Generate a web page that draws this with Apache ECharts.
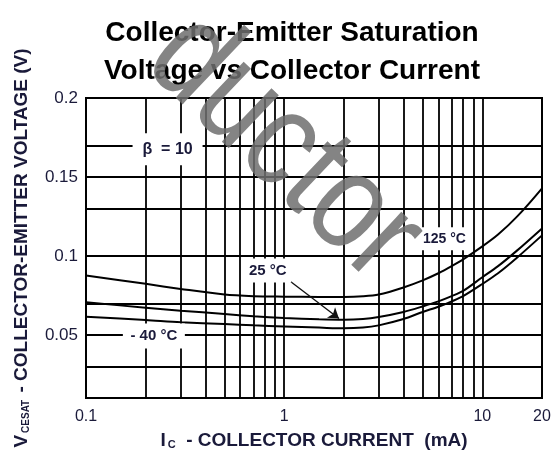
<!DOCTYPE html>
<html>
<head>
<meta charset="utf-8">
<script src="https://cdn.jsdelivr.net/npm/echarts@6.0.0/dist/echarts.min.js"></script>
<style>
html,body{margin:0;padding:0;background:#fff;}
#chart{width:559px;height:450px;}
</style>
</head>
<body>
<div id="chart"></div>
<script>
// ---- data ----
const currents = [0.1, 0.2, 0.3, 0.5, 0.7, 1, 1.5, 2, 2.5, 3, 4, 5, 6, 7, 8, 10, 12, 15, 20];           // mA
const vce125 = [0.0876, 0.0823, 0.0791, 0.0755, 0.0745, 0.0742, 0.0740, 0.0740, 0.0744, 0.0755, 0.0800, 0.0845, 0.0890, 0.0935, 0.0978, 0.1060, 0.1135, 0.1250, 0.1428];
const vce25  = [0.0706, 0.0672, 0.0653, 0.0632, 0.0618, 0.0607, 0.0598, 0.0595, 0.0600, 0.0613, 0.0645, 0.0680, 0.0712, 0.0745, 0.0778, 0.0865, 0.0935, 0.1035, 0.1174];
const vceM40 = [0.0615, 0.0594, 0.0580, 0.0568, 0.0560, 0.0553, 0.0546, 0.0541, 0.0546, 0.0560, 0.0600, 0.0645, 0.0678, 0.0712, 0.0745, 0.0822, 0.0890, 0.0990, 0.1130];

const xTickValues = [0.1, 1, 10, 20];
const xTickLabels = ['0.1', '1', '10', '20'];
const yTickValues = [0.05, 0.1, 0.15, 0.2];
const yTickLabels = ['0.05', '0.1', '0.15', '0.2'];

const xGridValues = [0.2, 0.3, 0.4, 0.5, 0.6, 0.7, 0.8, 0.9, 1, 2, 3, 4, 5, 6, 7, 8, 9, 10];
const yGridValues = [0.025, 0.05, 0.075, 0.1, 0.125, 0.15, 0.175];

const xMin = 0.1, xMax = 20, yMin = 0.01, yMax = 0.2;

// annotation texts with their anchor (data coordinates)
const noteTexts  = ['β  = 10', '125 °C', '25 °C', '- 40 °C'];
const noteX      = [0.258, 6.44, 0.826, 0.22];
const noteY      = [0.1676, 0.1108, 0.0908, 0.0492];
const noteBox    = [[70, 32], [52, 23], [47, 24], [62, 25]];

const arrowFrom = [1.06, 0.0844];
const arrowTo   = [1.89, 0.0603];

const FONT = 'Liberation Sans, Arial, sans-serif';

function nearestLabel(v, vals, labels) {
  let best = 0, bd = Infinity;
  for (let i = 0; i < vals.length; i++) {
    const d = Math.abs(Math.log(vals[i]) - Math.log(v));
    if (d < bd) { bd = d; best = i; }
  }
  return labels[best];
}

const pairs = (ys) => currents.map((c, i) => [c, ys[i]]);

const curveStyle = { color: '#000', width: 2 };
const curveCommon = { type: 'line', smooth: 0.3, showSymbol: false, lineStyle: curveStyle, z: 3, silent: true };

const chart = echarts.init(document.getElementById('chart'), null, { renderer: 'canvas' });

const option = {
  animation: false,
  backgroundColor: '#fff',
  title: {
    text: 'Collector-Emitter Saturation\nVoltage vs Collector Current',
    left: 287,
    top: 9,
    textAlign: 'center',
    textStyle: { fontFamily: FONT, fontWeight: 'bold', fontSize: 28, lineHeight: 38, color: '#000' }
  },
  grid: {
    left: 86, right: 17, top: 98, bottom: 52,
    show: true, borderColor: '#000', borderWidth: 2, backgroundColor: 'transparent'
  },
  xAxis: {
    type: 'log', logBase: 10, min: xMin, max: xMax,
    axisLine: { show: false }, axisTick: { show: false },
    splitLine: { show: false }, minorSplitLine: { show: false },
    axisLabel: {
      customValues: xTickValues,
      margin: 11,
      fontFamily: FONT, fontSize: 16, color: '#1a1a3a',
      formatter: (v) => nearestLabel(v, xTickValues, xTickLabels)
    }
  },
  yAxis: {
    type: 'value', min: yMin, max: yMax,
    axisLine: { show: false }, axisTick: { show: false },
    splitLine: { show: false },
    axisLabel: {
      customValues: yTickValues,
      margin: 8,
      fontFamily: FONT, fontSize: 17, color: '#1a1a3a',
      formatter: (v) => nearestLabel(v, yTickValues, yTickLabels)
    }
  },
  series: [
    {
      name: 'grid', type: 'line', data: [], z: 1, silent: true,
      markLine: {
        silent: true, symbol: ['none', 'none'], animation: false,
        label: { show: false },
        lineStyle: { color: '#000', width: 1.8, type: 'solid' },
        emphasis: { disabled: true },
        data: xGridValues.map(v => ({ xAxis: v })).concat(yGridValues.map(v => ({ yAxis: v })))
      }
    },
    Object.assign({ name: '125 °C', data: pairs(vce125) }, curveCommon),
    Object.assign({ name: '25 °C',  data: pairs(vce25)  }, curveCommon),
    Object.assign({ name: '-40 °C', data: pairs(vceM40) }, curveCommon),
    {
      name: 'notes', type: 'line', data: [], z: 4, silent: true,
      markPoint: {
        silent: true, animation: false,
        symbol: 'rect',
        itemStyle: { color: '#fff' },
        label: {
          show: true, position: 'inside',
          fontFamily: FONT, fontWeight: 'bold', fontSize: 15, color: '#1a1a3a'
        },
        data: noteTexts.map((t, i) => ({
          coord: [noteX[i], noteY[i]],
          symbolSize: noteBox[i],
          value: t,
          label: { formatter: t, fontSize: i === 0 ? 16 : (i === 1 ? 14 : 15) }
        }))
      },
      markLine: {
        silent: true, animation: false,
        symbol: ['none', 'arrow'], symbolSize: 10,
        label: { show: false },
        lineStyle: { color: '#111', width: 1.3, type: 'solid' },
        data: [[{ coord: arrowFrom }, { coord: arrowTo }]]
      }
    }
  ],
  graphic: [
    {
      type: 'text', x: 22, y: 248, rotation: Math.PI / 2, z: 50,
      style: {
        text: '{m|V}{s|CESAT}{m| - COLLECTOR-EMITTER VOLTAGE (V)}',
        align: 'center', verticalAlign: 'middle',
        rich: {
          m: { fontFamily: FONT, fontWeight: 'bold', fontSize: 19, fill: '#1a1a3a' },
          s: { fontFamily: FONT, fontWeight: 'bold', fontSize: 10, fill: '#1a1a3a', padding: [8, 2, 0, 2] }
        }
      }
    },
    {
      type: 'text', x: 314, y: 441, z: 50,
      style: {
        text: '{m|I}{s|C}{m|  - COLLECTOR CURRENT  (mA)}',
        align: 'center', verticalAlign: 'middle',
        rich: {
          m: { fontFamily: FONT, fontWeight: 'bold', fontSize: 19, fill: '#1a1a3a' },
          s: { fontFamily: FONT, fontWeight: 'bold', fontSize: 11, fill: '#1a1a3a', padding: [8, 0, 0, 2] }
        }
      }
    },
    {
      type: 'text', x: 352, y: 308, rotation: -0.76, scaleX: 1, scaleY: 1.2, z: 100, silent: true,
      style: {
        text: 'ductor',
        fontFamily: 'Liberation Sans Narrow, Liberation Sans, sans-serif', fontSize: 115, fontWeight: 'normal',
        fill: 'rgba(110,110,110,0.85)',
        align: 'right', verticalAlign: 'bottom'
      }
    }
  ]
};

chart.setOption(option);
</script>
</body>
</html>
